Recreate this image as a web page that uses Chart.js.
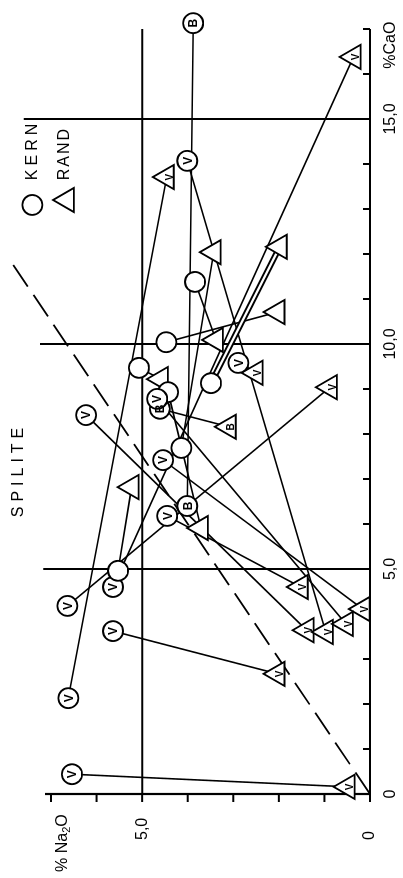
<!DOCTYPE html>
<html><head><meta charset="utf-8">
<script src="https://cdn.jsdelivr.net/npm/chart.js@4.4.1/dist/chart.umd.min.js"></script>
<style>
html,body{margin:0;padding:0;background:#fff;overflow:hidden;width:403px;height:878px;}
#wrap{position:absolute;left:0;top:0;width:878px;height:403px;transform-origin:0 0;transform:translate(0px,878px) rotate(-90deg);}
canvas{display:block;}
</style></head><body>
<div id="wrap"><canvas id="c" width="878" height="403"></canvas></div>
<script>
// ---- data (x = % CaO, y = % Na2O) ----
const kernCaO   = [17.13, 14.07, 11.38, 10.04, 9.47, 9.58, 9.13, 8.93, 8.56, 8.78, 8.42, 7.69, 7.42, 6.40, 6.18, 4.60, 4.96, 4.18, 3.62, 2.13, 0.44];
const kernNa2O  = [3.88, 4.01, 3.84, 4.47, 5.07, 2.89, 3.49, 4.43, 4.61, 4.67, 6.23, 4.14, 4.54, 4.01, 4.45, 5.64, 5.53, 6.64, 5.64, 6.62, 6.54];
const kernLabels= ['B','V','','','','V','','','B','V','V','','V','B','V','V','','V','V','V','V'];

const randCaO   = [16.38, 13.71, 12.04, 12.16, 10.71, 10.09, 9.36, 9.04, 9.22, 8.16, 6.82, 5.91, 4.60, 4.11, 3.64, 3.60, 3.78, 2.67, 0.16];
const randNa2O  = [0.36, 4.46, 3.43, 1.98, 2.03, 3.38, 2.51, 0.88, 4.59, 3.10, 5.23, 3.71, 1.52, 0.16, 1.39, 0.97, 0.53, 2.03, 0.49];
const randLabels= ['V','V','','','','','V','V','','B','','','V','V','V','V','V','V','V'];
const randKernIndex = [15, 19, 11, 6, 3, 2, 5, 17, 4, 8, 16, 7, 14, 12, 10, 1, 9, 18, 20];
const kernLinks = [[0, 13]];
const doubleLinkRand = [3];

const boundaryCaO  = [0, 11.76];
const boundaryNa2O = [0, 7.83];

const caoTicks = [0, 5, 10, 15];
const caoTickLabels = ['0', '5,0', '10,0', '15,0'];
const na2oTicks = [0, 5];
const na2oTickLabels = ['0', '5,0'];
const gridCaO = [5, 10, 15];
const gridCaOTop = [7.17, 7.24, 7.6];
const gridNa2O = [5];

const FONT = '"Liberation Sans", Arial, sans-serif';

const pt = (x, y) => ({x, y});
const datasets = [];
datasets.push({
  label: 'KERN', data: kernCaO.map((v, i) => pt(v, kernNa2O[i])),
  pointStyle: 'circle', pointRadius: 10, pointBackgroundColor: '#fff', pointBorderColor: '#000',
  pointBorderWidth: 1.8, showLine: false, clip: false, order: 0
});
datasets.push({
  label: 'RAND', data: randCaO.map((v, i) => pt(v, randNa2O[i])),
  pointStyle: 'triangle', pointRadius: 14, pointBackgroundColor: '#fff', pointBorderColor: '#000',
  pointBorderWidth: 1.8, showLine: false, clip: false, order: 1
});
randKernIndex.forEach((k, i) => {
  const dbl = doubleLinkRand.includes(i);
  datasets.push({
    data: [pt(kernCaO[k], kernNa2O[k]), pt(randCaO[i], randNa2O[i])],
    showLine: true, borderColor: '#000', borderWidth: dbl ? 6 : 1.6, pointRadius: 0, clip: false, order: 10
  });
  if (dbl) datasets.push({
    data: [pt(kernCaO[k], kernNa2O[k]), pt(randCaO[i], randNa2O[i])],
    showLine: true, borderColor: '#fff', borderWidth: 2.4, pointRadius: 0, clip: false, order: 9
  });
});
kernLinks.forEach(([a, b]) => datasets.push({
  data: [pt(kernCaO[a], kernNa2O[a]), pt(kernCaO[b], kernNa2O[b])],
  showLine: true, borderColor: '#000', borderWidth: 1.6, pointRadius: 0, clip: false, order: 10
}));
datasets.push({
  data: boundaryCaO.map((v, i) => pt(v, boundaryNa2O[i])),
  showLine: true, borderColor: '#000', borderWidth: 1.8, borderDash: [26, 10], pointRadius: 0, clip: false, order: 11
});

const frame = {
  id: 'frame',
  beforeDatasetsDraw(chart) {
    const {ctx, scales: {x, y}} = chart;
    ctx.save();
    ctx.strokeStyle = '#000';
    ctx.lineCap = 'butt';
    const X0 = x.getPixelForValue(0), Y0 = y.getPixelForValue(0);
    ctx.lineWidth = 2;
    gridCaO.forEach((v, i) => {
      const px = x.getPixelForValue(v);
      ctx.beginPath(); ctx.moveTo(px, Y0); ctx.lineTo(px, y.getPixelForValue(gridCaOTop[i])); ctx.stroke();
    });
    gridNa2O.forEach(v => {
      const py = y.getPixelForValue(v);
      ctx.beginPath(); ctx.moveTo(X0, py); ctx.lineTo(x.getPixelForValue(17), py); ctx.stroke();
    });
    ctx.lineWidth = 2.2;
    ctx.beginPath(); ctx.moveTo(X0, Y0); ctx.lineTo(x.getPixelForValue(17), Y0); ctx.stroke();
    ctx.beginPath(); ctx.moveTo(X0, Y0); ctx.lineTo(X0, y.getPixelForValue(7.13)); ctx.stroke();
    ctx.lineWidth = 2;
    for (let v = 0; v <= 17; v++) {
      const px = x.getPixelForValue(v);
      ctx.beginPath(); ctx.moveTo(px, Y0); ctx.lineTo(px, Y0 - 7); ctx.stroke();
    }
    for (let v = 0; v <= 7; v++) {
      const py = y.getPixelForValue(v);
      ctx.beginPath(); ctx.moveTo(X0, py); ctx.lineTo(X0 - 8, py); ctx.stroke();
    }
    ctx.restore();
  },
  afterDatasetsDraw(chart) {
    const {ctx, scales: {x, y}} = chart;
    ctx.save();
    ctx.fillStyle = '#000';
    ctx.textAlign = 'center'; ctx.textBaseline = 'middle';
    const km = chart.getDatasetMeta(0).data;
    ctx.font = 'bold 12px ' + FONT;
    kernLabels.forEach((l, i) => { if (l) ctx.fillText(l, km[i].x, km[i].y + 1); });
    const rm = chart.getDatasetMeta(1).data;
    ctx.font = 'bold 10px ' + FONT;
    randLabels.forEach((l, i) => { if (l) ctx.fillText(l, rm[i].x, rm[i].y + 3); });
    const X0 = x.getPixelForValue(0), Y0 = y.getPixelForValue(0);
    ctx.font = '16px ' + FONT;
    caoTicks.forEach((v, i) => ctx.fillText(caoTickLabels[i], x.getPixelForValue(v), Y0 + 21));
    ctx.fillText('%CaO', x.getPixelForValue(16.64), Y0 + 21);
    ctx.textAlign = 'left';
    na2oTicks.forEach((v, i) => ctx.fillText(na2oTickLabels[i], X0 - 46, y.getPixelForValue(v)));
    let yy = y.getPixelForValue(6.75), xx = X0 - 78;
    ctx.fillText('% Na', xx, yy); xx += ctx.measureText('% Na').width;
    ctx.font = '11px ' + FONT; ctx.fillText('2', xx, yy + 5); xx += ctx.measureText('2').width;
    ctx.font = '16px ' + FONT; ctx.fillText('O', xx, yy);
    const H = Chart.helpers;
    ctx.strokeStyle = '#000'; ctx.fillStyle = '#fff';
    H.drawPoint(ctx, {pointStyle: 'circle', radius: 10, borderWidth: 1.8}, x.getPixelForValue(13.09), y.getPixelForValue(7.41));
    H.drawPoint(ctx, {pointStyle: 'triangle', radius: 14, borderWidth: 1.8}, x.getPixelForValue(13.2), y.getPixelForValue(6.65));
    ctx.fillStyle = '#000';
    ctx.font = '16px ' + FONT;
    ctx.letterSpacing = '4px';
    ctx.fillText('KERN', x.getPixelForValue(13.64), y.getPixelForValue(7.41));
    ctx.letterSpacing = '2px';
    ctx.fillText('RAND', x.getPixelForValue(13.64), y.getPixelForValue(6.70));
    ctx.letterSpacing = '5px';
    ctx.textAlign = 'center';
    ctx.fillText('SPILITE', x.getPixelForValue(7.2), y.getPixelForValue(7.71));
    ctx.restore();
  }
};

new Chart(document.getElementById('c'), {
  type: 'scatter',
  data: {datasets},
  options: {
    responsive: false, animation: false,
    layout: {padding: {left: 84, right: 29, top: 51, bottom: 33}},
    scales: {
      x: {type: 'linear', min: 0, max: 17, display: false},
      y: {type: 'linear', min: 0, max: 7, display: false}
    },
    plugins: {legend: {display: false}, tooltip: {enabled: false}}
  },
  plugins: [frame]
});
</script></body></html>
